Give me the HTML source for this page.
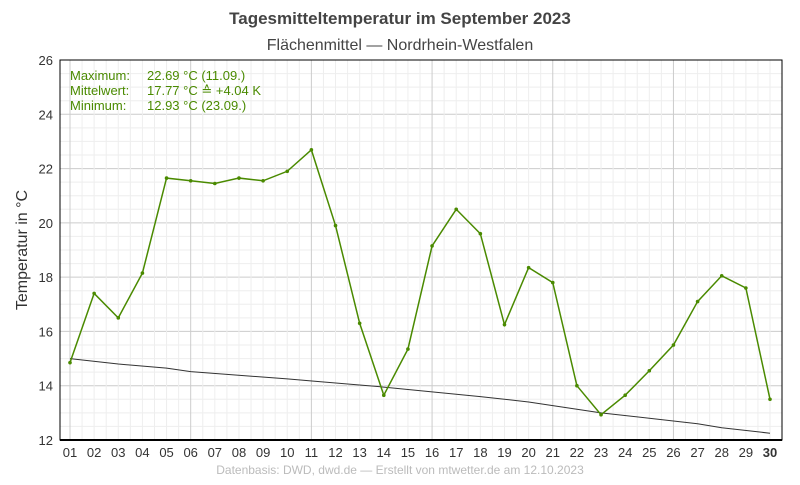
<!DOCTYPE html>
<html><head><meta charset="utf-8"><style>
body{margin:0;background:#fff;width:800px;height:480px;overflow:hidden;font-family:"Liberation Sans","DejaVu Sans",sans-serif}
</style></head><body>
<svg id="s" width="800" height="480" xmlns="http://www.w3.org/2000/svg" font-family="Liberation Sans, DejaVu Sans, sans-serif">
<text x="400" y="24" text-anchor="middle" font-size="17" font-weight="bold" fill="#444">Tagesmitteltemperatur im September 2023</text>
<text x="400" y="50" text-anchor="middle" font-size="16" fill="#444">Flächenmittel — Nordrhein-Westfalen</text>
<text transform="translate(27,250) rotate(-90)" text-anchor="middle" font-size="16" fill="#333">Temperatur in °C</text>
<text x="400" y="474" text-anchor="middle" font-size="12" fill="#bbb">Datenbasis: DWD, dwd.de — Erstellt von mtwetter.de am 12.10.2023</text>
<g id="g"></g>
<g font-size="13" fill="#4a8a00">
<text x="70" y="80">Maximum:</text><text x="147" y="80">22.69 °C  (11.09.)</text>
<text x="70" y="95">Mittelwert:</text><text x="147" y="95">17.77 °C  ≙ +4.04 K</text>
<text x="70" y="110">Minimum:</text><text x="147" y="110">12.93 °C  (23.09.)</text>
</g>
</svg>
<script>
var L=60,R=782,T=60,B=440;
function X(d){return 70+(d-1)*24.138}
function Y(v){return B-(v-12)*27.143}
var h='';
for(var v=12;v<=26;v+=0.5){var y=Y(v);h+='<line x1="'+L+'" x2="'+R+'" y1="'+y+'" y2="'+y+'" stroke="'+(v%2==0?'#ccc':'#eee')+'"/>';}
for(var d=0.5;d<=30.5;d+=0.5){var x=X(d);if(x<L||x>R)continue;var c=(d%5==1)?'#ccc':'#eee';h+='<line x1="'+x+'" x2="'+x+'" y1="'+T+'" y2="'+B+'" stroke="'+c+'"/>';}
h+='<rect x="'+L+'" y="'+T+'" width="'+(R-L)+'" height="'+(B-T)+'" fill="none" stroke="#000" stroke-width="1"/>';
h+='<line x1="'+L+'" x2="'+R+'" y1="'+B+'" y2="'+B+'" stroke="#000" stroke-width="2"/>';
for(var v=12;v<=26;v+=2)h+='<text x="53" y="'+(Y(v)+5)+'" text-anchor="end" font-size="13" fill="#333">'+v+'</text>';
for(var d=1;d<=30;d++)h+='<text x="'+X(d)+'" y="457" text-anchor="middle" font-size="13" fill="#333"'+(d==30?' font-weight="bold"':'')+'>'+(d<10?'0'+d:d)+'</text>';
var cl=[[1,15.0],[3,14.8],[5,14.65],[6,14.52],[10,14.25],[14,13.95],[18,13.6],[20,13.4],[23,13.0],[27,12.6],[28,12.45],[30,12.25]];
h+='<polyline fill="none" stroke="#333" stroke-width="1" points="'+cl.map(function(p){return X(p[0])+','+Y(p[1])}).join(' ')+'"/>';
var dv=[14.85,17.4,16.5,18.15,21.65,21.55,21.45,21.65,21.55,21.9,22.69,19.9,16.3,13.65,15.35,19.15,20.5,19.6,16.25,18.35,17.8,14.0,12.93,13.65,14.55,15.5,17.1,18.05,17.6,13.5];
h+='<polyline fill="none" stroke="#4a8a00" stroke-width="1.5" points="'+dv.map(function(v,i){return X(i+1)+','+Y(v)}).join(' ')+'"/>';
dv.forEach(function(v,i){h+='<circle cx="'+X(i+1)+'" cy="'+Y(v)+'" r="1.8" fill="#4a8a00"/>';});
document.getElementById('g').innerHTML=h;
</script>
</body></html>
